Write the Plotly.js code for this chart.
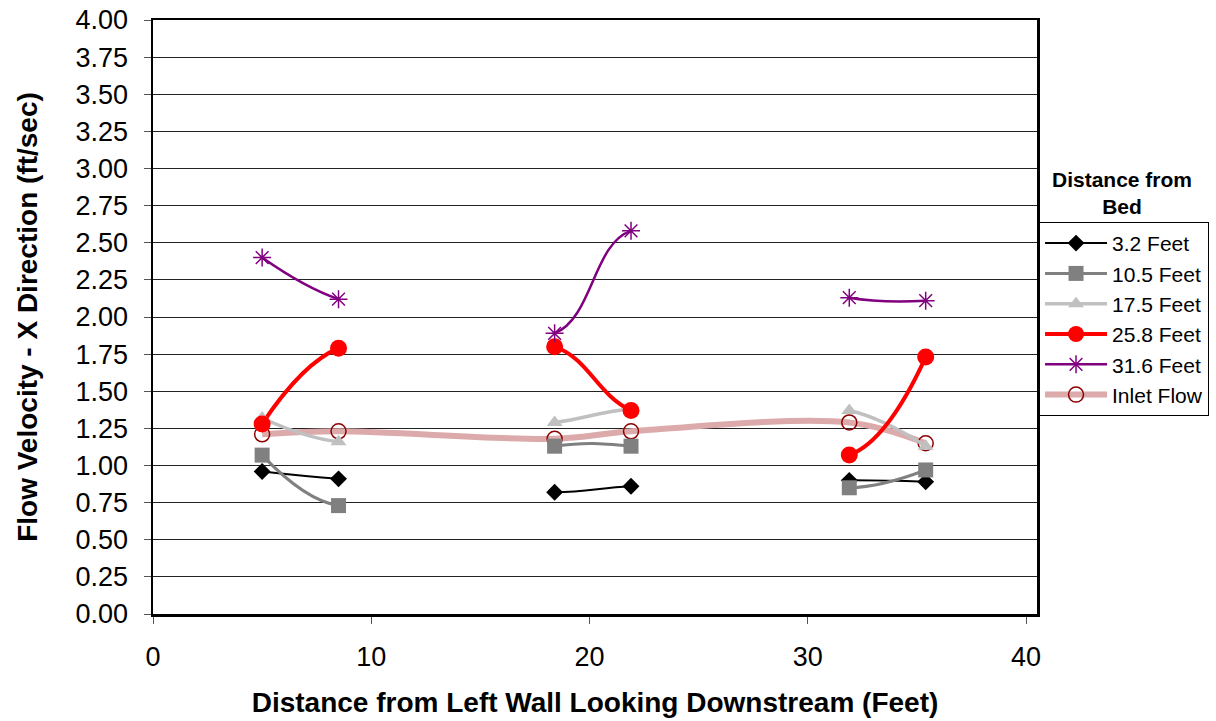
<!DOCTYPE html>
<html><head><meta charset="utf-8">
<script src="https://cdn.plot.ly/plotly-3.0.1.min.js"></script>
<style>html,body{margin:0;padding:0;background:#fff}#chart{width:1216px;height:721px}</style>
</head><body><div id="chart"></div>
<script>
// ---- data ----
const distance = [5, 8.5, 18.4, 21.9, 31.9, 35.4];
const groupIdx = [[0, 1], [2, 3], [4, 5]];
const seriesNames = ['3.2 Feet', '10.5 Feet', '17.5 Feet', '25.8 Feet', '31.6 Feet'];
const v32  = [0.96, 0.91, 0.82, 0.86, 0.90, 0.89];
const v105 = [1.07, 0.73, 1.13, 1.13, 0.85, 0.97];
const v175 = [1.32, 1.16, 1.29, 1.38, 1.37, 1.13];
const v258 = [1.28, 1.79, 1.80, 1.37, 1.07, 1.73];
const v316 = [2.40, 2.12, 1.89, 2.58, 2.13, 2.11];
const inletName = 'Inlet Flow';
const inlet = [1.21, 1.23, 1.18, 1.23, 1.29, 1.15];
const xTickVals = [0, 10, 20, 30, 40];
const yTickVals = [0, 0.25, 0.5, 0.75, 1, 1.25, 1.5, 1.75, 2, 2.25, 2.5, 2.75, 3, 3.25, 3.5, 3.75, 4];
const xTitle = 'Distance from Left Wall Looking Downstream (Feet)';
const yTitle = 'Flow Velocity - X Direction (ft/sec)';
const legendTitle = 'Distance from<br>Bed';

// ---- styles ----
const XMAX = 40.5, YMAX = 4;
const FONT = 'Liberation Sans, Arial, sans-serif';
const seriesValues = [v32, v105, v175, v258, v316];
const styles = [
  {color: '#000000', width: 2,   symbol: 'diamond',       size: 13},
  {color: '#808080', width: 3,   symbol: 'square',        size: 15},
  {color: '#c0c0c0', width: 3.5, symbol: 'triangle-up',   size: 14},
  {color: '#ff0000', width: 4,   symbol: 'circle',        size: 17},
  {color: '#800080', width: 2.5, symbol: 'asterisk-open', size: 15}
];

function isolate(arr) {
  const out = [];
  arr.forEach((v, i) => { if (i) out.push(null); out.push(v); });
  return out;
}

const data = [];
// Inlet flow: continuous smoothed line on the main subplot
data.push({
  x: distance, y: inlet, name: inletName, type: 'scatter', mode: 'lines+markers',
  xaxis: 'x', yaxis: 'y', legendrank: 6,
  line: {shape: 'spline', smoothing: 1, color: '#dcaaaa', width: 6},
  marker: {symbol: 'circle-open', size: 15, color: '#8b0000', line: {width: 1.5}},
  hoverinfo: 'x+y+name'
});

// smoothed pair segments, clipped to their own subplot strip
const layoutAxes = {};
groupIdx.forEach((g, k) => {
  const ax = 'xaxis' + (k + 2);
  layoutAxes[ax] = {
    domain: [distance[g[0]] / XMAX, distance[g[1]] / XMAX],
    range: [distance[g[0]], distance[g[1]]],
    visible: false, anchor: 'y2', fixedrange: true
  };
  const lo = Math.max(0, g[0] - 1), hi = Math.min(distance.length - 1, g[1] + 1);
  seriesValues.forEach((vals, s) => {
    data.push({
      x: distance.slice(lo, hi + 1), y: vals.slice(lo, hi + 1),
      type: 'scatter', mode: 'lines', xaxis: 'x' + (k + 2), yaxis: 'y2',
      line: {shape: 'spline', smoothing: 1, color: styles[s].color, width: styles[s].width},
      showlegend: false, legendgroup: seriesNames[s], hoverinfo: 'skip'
    });
  });
});

// markers (and legend entries) on a full-width top subplot
seriesValues.forEach((vals, s) => {
  const st = styles[s];
  data.push({
    x: isolate(distance), y: isolate(vals), name: seriesNames[s],
    type: 'scatter', mode: 'lines+markers', connectgaps: false,
    xaxis: 'x5', yaxis: 'y2', legendgroup: seriesNames[s], legendrank: s + 1,
    line: {color: st.color, width: st.width},
    marker: {symbol: st.symbol, size: st.size, color: st.color,
             line: {color: st.color, width: st.symbol === 'asterisk-open' ? 1.5 : 0}}
  });
});

const layout = Object.assign({
  width: 1216, height: 721,
  margin: {l: 153, r: 179, t: 20, b: 107, autoexpand: false},
  paper_bgcolor: '#ffffff', plot_bgcolor: 'rgba(0,0,0,0)',
  font: {family: FONT, color: '#000'},
  showlegend: true,
  xaxis: {
    range: [0, XMAX], tickvals: xTickVals, ticks: 'outside', ticklen: 7, tickcolor: '#555',
    showline: true, linewidth: 2.5, linecolor: '#000', mirror: true,
    showgrid: false, zeroline: false, tickfont: {size: 27, family: FONT},
    ticklabelstandoff: 10, automargin: false,
    title: {text: '<b>' + xTitle + '</b>', font: {size: 28, family: FONT}, standoff: 22},
    fixedrange: true
  },
  yaxis: {
    range: [0, YMAX], tickvals: yTickVals, tickformat: '.2f', ticks: 'outside', ticklen: 7, tickcolor: '#555',
    showline: true, linewidth: 2.5, linecolor: '#000', mirror: true,
    showgrid: true, gridcolor: '#222', gridwidth: 1, zeroline: false,
    tickfont: {size: 27, family: FONT}, ticklabelstandoff: 10, automargin: false,
    title: {text: '<b>' + yTitle + '</b>', font: {size: 28, family: FONT}, standoff: 30},
    fixedrange: true
  },
  xaxis5: {domain: [0, 1], range: [0, XMAX], visible: false, anchor: 'y2', fixedrange: true},
  yaxis2: {domain: [0, 1], range: [0, YMAX], visible: false, anchor: 'x5', showgrid: false, fixedrange: true},
  legend: {
    x: 1.0023, xanchor: 'left', y: 0.66, yanchor: 'top',
    bordercolor: '#000', borderwidth: 1, bgcolor: '#fff',
    font: {size: 21, family: FONT}, itemwidth: 62, traceorder: 'normal'
  },
  annotations: [{
    xref: 'paper', yref: 'paper', x: 1.096, y: 0.663, xanchor: 'center', yanchor: 'bottom',
    text: '<b>' + legendTitle + '</b>', showarrow: false, align: 'center',
    font: {size: 21, family: FONT}
  }]
}, layoutAxes);

Plotly.newPlot('chart', data, layout, {displayModeBar: false, staticPlot: true});
</script>
</body></html>
